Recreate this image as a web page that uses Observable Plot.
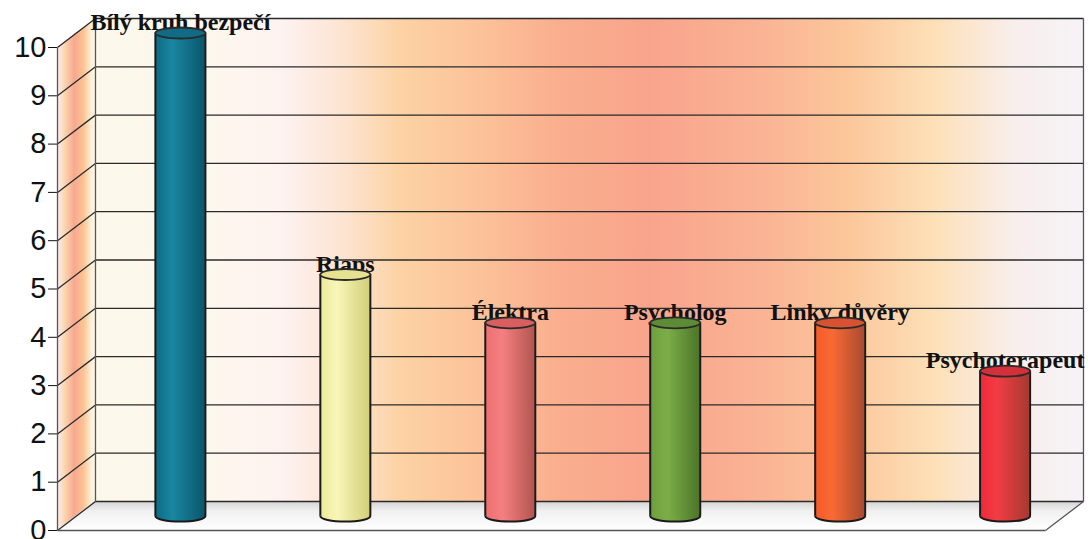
<!DOCTYPE html>
<html>
<head>
<meta charset="utf-8">
<script src="https://cdn.jsdelivr.net/npm/d3@7"></script>
<script src="https://cdn.jsdelivr.net/npm/@observablehq/plot@0.6"></script>
<style>
  html, body { margin: 0; padding: 0; background: #ffffff; }
  #chart svg { display: block; }
  #chart svg g[aria-label*="y-axis"] { font-size: 29px; }
</style>
</head>
<body>
<div id="chart"></div>
<script>
// ---- data ----
const categories = ["Bílý kruh bezpečí", "Riaps", "Élektra", "Psycholog", "Linky důvěry", "Psychoterapeut"];
const values = [10, 5, 4, 4, 4, 3];
const yTicks = [0, 1, 2, 3, 4, 5, 6, 7, 8, 9, 10];

// ---- palette (styles) ----
const bodyStops = [
  ["#0d6a82", "#1a86a2", "#0a566a"],
  ["#ecea98", "#f8f6b8", "#d2ce78"],
  ["#ee6e70", "#f48080", "#b25450"],
  ["#6c9e3e", "#7cae48", "#4c7428"],
  ["#f65a28", "#f86a34", "#a84a30"],
  ["#ee2a38", "#f23c44", "#a63a30"]
];
const topColors = ["#0f6c84", "#e6e292", "#d85e60", "#5e8c36", "#d65230", "#d4303a"];

// ---- 3D geometry (in data units) ----
const xL = -0.63, xR = 5.36;      // front floor extent (category units)
const DX = 0.2303, DY = 0.6;      // depth offset of the back wall
const pxPerUnit = (1045 - 57) / (xR - xL);
const hw = 25 / pxPerUnit;        // cylinder half width

const bars = categories.map((c, i) => ({cat: c, value: values[i], i, cx: i + DX / 2}));

const backGrid = yTicks.map(v => ({x1: xL + DX, x2: xR + DX, y1: v + DY, y2: v + DY}));
const sideGrid = yTicks.map(v => ({x1: xL, x2: xL + DX, y1: v, y2: v + DY}));
const edges = [
  {x1: xL, x2: xL, y1: 0, y2: 10},                       // front axis
  {x1: xL + DX, x2: xL + DX, y1: DY, y2: 10 + DY},       // back wall left edge
  {x1: xR + DX, x2: xR + DX, y1: DY, y2: 10 + DY},       // back wall right edge
  {x1: xL, x2: xR, y1: 0, y2: 0},                        // floor front edge
  {x1: xR, x2: xR + DX, y1: 0, y2: DY}                   // floor right edge
];
const sideWall = [{x: xL, y1: 0, y2: 10}, {x: xL + DX, y1: DY, y2: 10 + DY}];
const floor = [{y: 0, x1: xL, x2: xR}, {y: DY, x1: xL + DX, x2: xR + DX}];

const ellipse = {
  draw(ctx, size) {
    const r = Math.sqrt(size / Math.PI);
    const rx = r, ry = r * 0.22, k = 0.5523;
    ctx.moveTo(rx, 0);
    ctx.bezierCurveTo(rx, ry * k, rx * k, ry, 0, ry);
    ctx.bezierCurveTo(-rx * k, ry, -rx, ry * k, -rx, 0);
    ctx.bezierCurveTo(-rx, -ry * k, -rx * k, -ry, 0, -ry);
    ctx.bezierCurveTo(rx * k, -ry, rx, -ry * k, rx, 0);
    ctx.closePath();
  }
};

const chart = Plot.plot({
  width: 1088,
  height: 539,
  marginLeft: 57,
  marginRight: 43,
  marginTop: 47,
  marginBottom: 9,
  style: {background: "#ffffff", fontFamily: "Liberation Sans, Arial, sans-serif", fontSize: "29px", color: "#111"},
  x: {domain: [xL, xR], axis: null},
  y: {domain: [0, 10], ticks: yTicks, tickSize: 9, tickPadding: 2, label: null},
  color: {type: "identity"},
  marks: [
    Plot.rect([{x1: xL + DX, x2: xR + DX, y1: DY, y2: 10 + DY}], {x1: "x1", x2: "x2", y1: "y1", y2: "y2", fill: "url(#backGrad)"}),
    Plot.area(sideWall, {x1: "x", y1: "y1", y2: "y2", fill: "url(#sideGrad)"}),
    Plot.area(floor, {y1: "y", x1: "x1", x2: "x2", fill: "url(#floorGrad)"}),
    Plot.link(backGrid, {x1: "x1", x2: "x2", y1: "y1", y2: "y2", stroke: "#2a2a2a", strokeWidth: 1.3}),
    Plot.link(sideGrid, {x1: "x1", x2: "x2", y1: "y1", y2: "y2", stroke: "#2a2a2a", strokeWidth: 1.3}),
    Plot.link(edges, {x1: "x1", x2: "x2", y1: "y1", y2: "y2", stroke: "#555555", strokeWidth: 1.3}),
    // labels (drawn beneath the cylinder tops)
    Plot.text(bars, {x: "cx", y: d => d.value + DY / 2, text: "cat", lineAnchor: "bottom", textAnchor: "middle", dy: -3,
      fontFamily: "Liberation Serif, Times New Roman, serif", fontWeight: "bold", fontSize: 24, fill: "#111111"}),
    // cylinders
    Plot.dot(bars, {x: "cx", y: DY / 2, symbol: ellipse, r: 25, fill: d => `url(#cyl${d.i})`, stroke: "#1a1a1a", strokeWidth: 2}),
    Plot.rect(bars, {x1: d => d.cx - hw, x2: d => d.cx + hw, y1: DY / 2, y2: d => d.value + DY / 2, fill: d => `url(#cyl${d.i})`}),
    Plot.ruleX(bars, {x: d => d.cx - hw, y1: DY / 2, y2: d => d.value + DY / 2, stroke: "#1a1a1a", strokeWidth: 2}),
    Plot.ruleX(bars, {x: d => d.cx + hw, y1: DY / 2, y2: d => d.value + DY / 2, stroke: "#1a1a1a", strokeWidth: 2}),
    Plot.dot(bars, {x: "cx", y: d => d.value + DY / 2, symbol: ellipse, r: 25, fill: d => topColors[d.i], stroke: "#2a2a2a", strokeWidth: 1.8})
  ]
});

// ---- gradients ----
const NS = "http://www.w3.org/2000/svg";
function grad(id, stops, vertical) {
  const g = document.createElementNS(NS, "linearGradient");
  g.setAttribute("id", id);
  g.setAttribute("x1", "0"); g.setAttribute("y1", "0");
  g.setAttribute("x2", vertical ? "0" : "1"); g.setAttribute("y2", vertical ? "1" : "0");
  for (const [o, c] of stops) {
    const s = document.createElementNS(NS, "stop");
    s.setAttribute("offset", o);
    s.setAttribute("stop-color", c);
    g.appendChild(s);
  }
  return g;
}
const defs = document.createElementNS(NS, "defs");
defs.appendChild(grad("backGrad", [
  [0, "#fcf8ea"], [0.12, "#fdf7ee"], [0.19, "#fdf2f0"], [0.25, "#fde4d2"], [0.31, "#fdd2a4"],
  [0.38, "#fcc49a"], [0.47, "#faae8e"], [0.56, "#f8a48c"], [0.67, "#fab294"], [0.76, "#fcc69a"],
  [0.85, "#fde0b8"], [0.93, "#f8eeec"], [1, "#f6f3f7"]
], false));
defs.appendChild(grad("sideGrad", [
  [0, "#f8f0f6"], [0.2, "#fcd6b0"], [0.45, "#f8a890"], [0.7, "#fbc494"], [0.9, "#fdf0d8"], [1, "#fdf8ec"]
], false));
defs.appendChild(grad("floorGrad", [
  [0, "#d4d4d4"], [0.35, "#f0f0f0"], [1, "#ffffff"]
], true));
bodyStops.forEach((s, i) => {
  defs.appendChild(grad(`cyl${i}`, [[0, s[0]], [0.35, s[1]], [1, s[2]]], false));
});
chart.insertBefore(defs, chart.firstChild);

document.getElementById("chart").appendChild(chart);
</script>
</body>
</html>
